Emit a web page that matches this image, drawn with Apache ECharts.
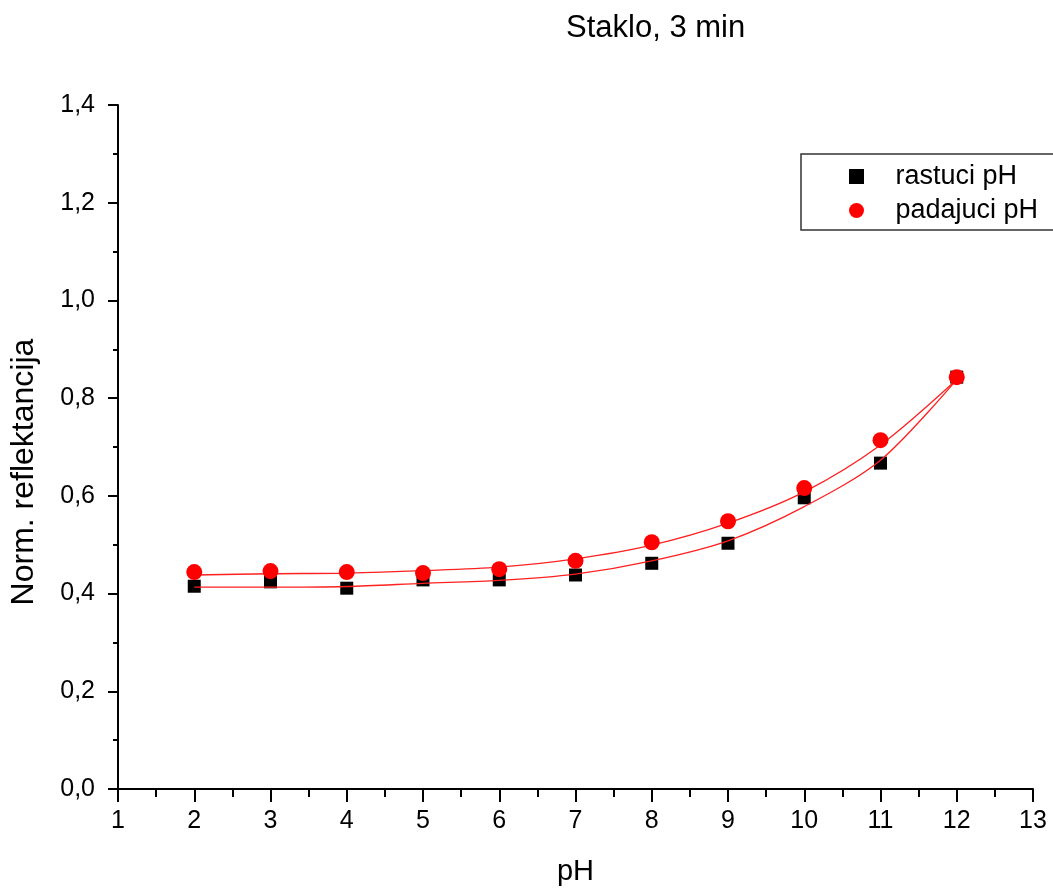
<!DOCTYPE html>
<html>
<head>
<meta charset="utf-8">
<script src="https://cdn.jsdelivr.net/npm/echarts@6/dist/echarts.min.js"></script>
<style>
html,body{margin:0;padding:0;background:#fff;}
#chart{width:1053px;height:891px;}
</style>
</head>
<body>
<div id="chart"></div>
<script>
var titleText = 'Staklo, 3 min';
var xName = 'pH';
var yName = 'Norm. reflektancija';
var pH = [2, 3, 4, 5, 6, 7, 8, 9, 10, 11, 12];
var rastuciName = 'rastuci pH';
var padajuciName = 'padajuci pH';
var rastuci = [0.415, 0.424, 0.411, 0.428, 0.428, 0.438, 0.462, 0.503, 0.596, 0.667, 0.843];
var padajuci = [0.444, 0.446, 0.444, 0.442, 0.450, 0.467, 0.505, 0.548, 0.616, 0.714, 0.843];
var fitRastuci = [0.413, 0.413, 0.4145, 0.421, 0.427, 0.440, 0.467, 0.508, 0.578, 0.673, 0.838];
var fitPadajuci = [0.438, 0.4406, 0.442, 0.4468, 0.454, 0.471, 0.499, 0.544, 0.608, 0.704, 0.838];

function pairs(xs, ys) { return xs.map(function (x, i) { return [x, ys[i]]; }); }

var FONT = '"Liberation Sans", Arial, sans-serif';
var chart = echarts.init(document.getElementById('chart'), null, {renderer: 'canvas'});
chart.setOption({
  animation: false,
  backgroundColor: '#ffffff',
  textStyle: {fontFamily: FONT, color: '#000'},
  title: {
    text: titleText,
    left: 566, top: 13, padding: 0,
    textStyle: {fontFamily: FONT, fontSize: 31, fontWeight: 'normal', color: '#000'}
  },
  legend: {
    data: [rastuciName, padajuciName],
    orient: 'vertical',
    left: 801, top: 154,
    padding: [9, 90, 6, 48],
    itemWidth: 68, itemHeight: 15, itemGap: 7,
    borderColor: '#333', borderWidth: 1.5,
    textStyle: {fontFamily: FONT, fontSize: 27, color: '#000'}
  },
  grid: {left: 116, right: 20, top: 105, bottom: 102, containLabel: false},
  xAxis: {
    type: 'value', min: 1, max: 13, interval: 1,
    name: xName, nameLocation: 'middle', nameGap: 68,
    nameTextStyle: {fontFamily: FONT, fontSize: 29, color: '#000'},
    axisLine: {show: true, onZero: false, lineStyle: {color: '#000', width: 2}},
    axisTick: {show: true, inside: false, length: 13, lineStyle: {color: '#000', width: 2}},
    minorTick: {show: true, splitNumber: 2, length: 8, lineStyle: {color: '#000', width: 2}},
    axisLabel: {margin: 20, fontFamily: FONT, fontSize: 25, color: '#000'},
    splitLine: {show: false}
  },
  yAxis: {
    type: 'value', min: 0, max: 1.4, interval: 0.2,
    name: yName, nameLocation: 'middle', nameGap: 78,
    nameTextStyle: {fontFamily: FONT, fontSize: 32, color: '#000', padding: [0, 50, 0, 0]},
    axisLine: {show: true, onZero: false, lineStyle: {color: '#000', width: 2}},
    axisTick: {show: true, inside: false, length: 10, lineStyle: {color: '#000', width: 2}},
    minorTick: {show: true, splitNumber: 2, length: 5, lineStyle: {color: '#000', width: 2}},
    axisLabel: {margin: 23, fontFamily: FONT, fontSize: 25, color: '#000',
      formatter: function (v) { return v.toFixed(1).replace('.', ','); }},
    splitLine: {show: false}
  },
  series: [
    {
      name: rastuciName, type: 'scatter', z: 2,
      symbol: 'path://M0,0 L1,0 L1,1 L0,1 Z', symbolSize: 13, symbolKeepAspect: true,
      itemStyle: {color: '#000', opacity: 1},
      data: pairs(pH, rastuci)
    },
    {
      name: 'fit rastuci', type: 'line', z: 3, smooth: 0.3, showSymbol: false, symbol: 'none',
      lineStyle: {color: '#ff2020', width: 1.3},
      data: pairs(pH, fitRastuci)
    },
    {
      name: 'fit padajuci', type: 'line', z: 3, smooth: 0.3, showSymbol: false, symbol: 'none',
      lineStyle: {color: '#ff2020', width: 1.3},
      data: pairs(pH, fitPadajuci)
    },
    {
      name: padajuciName, type: 'scatter', z: 4,
      symbol: 'circle', symbolSize: 16,
      itemStyle: {color: '#ff0000', opacity: 1},
      data: pairs(pH, padajuci)
    }
  ]
});
</script>
</body>
</html>
